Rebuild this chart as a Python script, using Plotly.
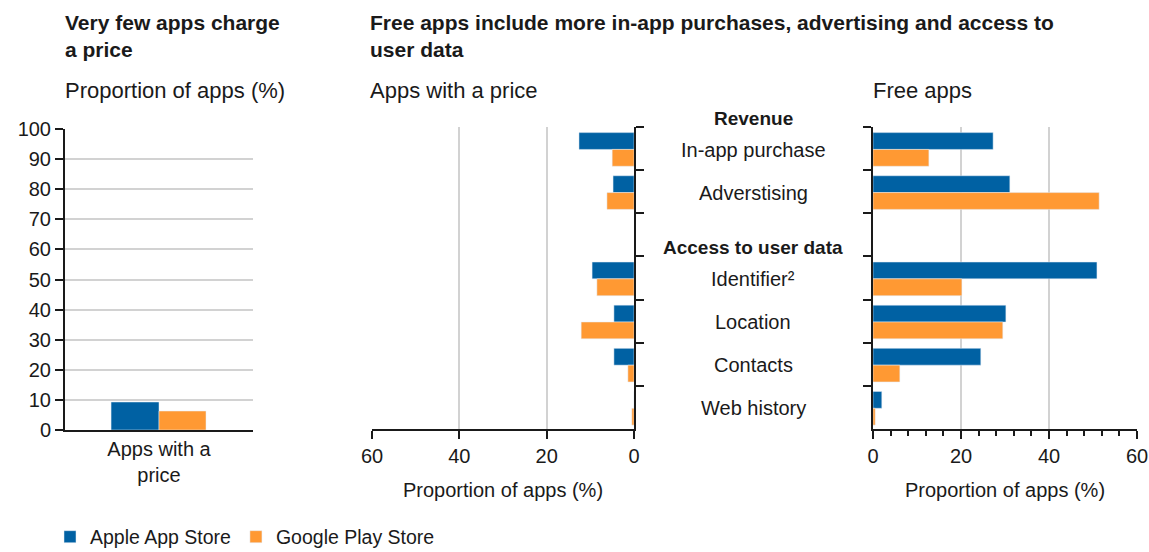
import plotly.graph_objects as go

W, H = 1149, 552

# Data -----------------------------------------------------------------------
stores = ["Apple App Store", "Google Play Store"]
store_colors = ["#0061a3", "#ff9933"]

price_category = ["Apps with a<br>price"]
apple_with_price = [9.3]
google_with_price = [6.3]

features = ["In-app purchase", "Adverstising", "Access to user data",
            "Identifier²", "Location", "Contacts", "Web history"]
paid_apple = [12.6, 4.8, None, 9.6, 4.6, 4.6, 0.0]
paid_google = [5.0, 6.2, None, 8.5, 12.1, 1.4, 0.5]
free_apple = [27.3, 31.1, None, 50.9, 30.2, 24.5, 2.0]
free_google = [12.7, 51.4, None, 20.2, 29.5, 6.1, 0.5]

left_ticks = list(range(0, 101, 10))
share_ticks = [0, 20, 40, 60]

# Styling --------------------------------------------------------------------
FONT = "Liberation Sans, Arial, sans-serif"
INK = "#1a1a1a"
GRID = "#d2d2d2"


def px_x(p):
    return p / W


def px_y(p):
    return 1 - p / H


fig = go.Figure()

# Left panel: share of apps that charge a price
fig.add_trace(go.Bar(x=price_category, y=apple_with_price, name=stores[0],
                     marker_color=store_colors[0], width=0.255, offset=-0.255,
                     xaxis="x", yaxis="y", legendgroup="a"))
fig.add_trace(go.Bar(x=price_category, y=google_with_price, name=stores[1],
                     marker_color=store_colors[1], width=0.25, offset=0,
                     xaxis="x", yaxis="y", legendgroup="g"))

# Middle panel: paid apps (mirrored)
fig.add_trace(go.Bar(y=features, x=paid_apple, orientation="h",
                     marker_color=store_colors[0], width=0.39, offset=-0.37,
                     xaxis="x2", yaxis="y2", showlegend=False, legendgroup="a"))
fig.add_trace(go.Bar(y=features, x=paid_google, orientation="h",
                     marker_color=store_colors[1], width=0.39, offset=0.02,
                     xaxis="x2", yaxis="y2", showlegend=False, legendgroup="g"))

# Right panel: free apps
fig.add_trace(go.Bar(y=features, x=free_apple, orientation="h",
                     marker_color=store_colors[0], width=0.39, offset=-0.37,
                     xaxis="x3", yaxis="y3", showlegend=False, legendgroup="a"))
fig.add_trace(go.Bar(y=features, x=free_google, orientation="h",
                     marker_color=store_colors[1], width=0.39, offset=0.02,
                     xaxis="x3", yaxis="y3", showlegend=False, legendgroup="g"))

panel_y = [px_y(429), px_y(127)]
tick_font = dict(family=FONT, size=20, color=INK)
title_font = dict(family=FONT, size=20, color=INK)

fig.update_layout(
    width=W, height=H,
    margin=dict(l=0, r=0, t=0, b=0, autoexpand=False),
    paper_bgcolor="white", plot_bgcolor="white",
    barmode="overlay",
    font=dict(family=FONT, color=INK),
    legend=dict(orientation="h", x=px_x(50), y=px_y(537), xanchor="left",
                yanchor="middle", font=dict(family=FONT, size=19.5, color=INK),
                itemwidth=30, tracegroupgap=0, bgcolor="rgba(0,0,0,0)"),
    xaxis=dict(domain=[px_x(65), px_x(253)], anchor="y", type="category",
               showline=True, linecolor=INK, linewidth=2, ticks="",
               showgrid=False, tickfont=dict(family=FONT, size=20, color=INK),
               range=[-0.5, 0.5], fixedrange=True),
    yaxis=dict(domain=[px_y(430), px_y(129)], anchor="x", range=[0, 100],
               tickvals=left_ticks, showline=True, linecolor=INK, linewidth=2,
               ticks="outside", ticklen=8, tickwidth=2, tickcolor=INK,
               showgrid=True, gridcolor=GRID, gridwidth=2, zeroline=False,
               tickfont=tick_font),
    xaxis2=dict(domain=[px_x(372), px_x(634)], anchor="y2", range=[60, 0],
                tickvals=share_ticks, showline=True, linecolor=INK, linewidth=2,
                ticks="outside", ticklen=8, tickwidth=2, tickcolor=INK,
                showgrid=True, gridcolor=GRID, gridwidth=2, zeroline=False,
                tickfont=tick_font,
                title=dict(text="Proportion of apps (%)", font=title_font, standoff=17)),
    yaxis2=dict(domain=panel_y, anchor="x2", side="right", type="category",
                categoryorder="array", categoryarray=features,
                range=[6.5, -0.5], showticklabels=False, showline=True,
                linecolor=INK, linewidth=2, ticks="outside", ticklen=8,
                tickwidth=2, tickcolor=INK, tickson="boundaries", showgrid=False),
    xaxis3=dict(domain=[px_x(873), px_x(1137)], anchor="y3", range=[0, 60],
                tickvals=share_ticks, showline=True, linecolor=INK, linewidth=2,
                ticks="outside", ticklen=8, tickwidth=2, tickcolor=INK,
                minor=dict(dtick=4, ticks="outside", ticklen=5, tickwidth=1.5,
                           tickcolor=INK, showgrid=False),
                showgrid=True, gridcolor=GRID, gridwidth=2, zeroline=False,
                tickfont=tick_font,
                title=dict(text="Proportion of apps (%)", font=title_font, standoff=17)),
    yaxis3=dict(domain=panel_y, anchor="x3", side="left", type="category",
                categoryorder="array", categoryarray=features,
                range=[6.5, -0.5], showticklabels=False, showline=True,
                linecolor=INK, linewidth=2, ticks="outside", ticklen=8,
                tickwidth=2, tickcolor=INK, tickson="boundaries", showgrid=False),
)

annotations = [
    dict(text="<b>Very few apps charge<br>a price</b>", x=px_x(63), y=px_y(9),
         xanchor="left", yanchor="top", align="left", font=dict(size=21)),
    dict(text="<b>Free apps include more in-app purchases, advertising and access to<br>user data</b>",
         x=px_x(368), y=px_y(9), xanchor="left", yanchor="top", align="left",
         font=dict(size=21)),
    dict(text="Proportion of apps (%)", x=px_x(63), y=px_y(91), xanchor="left",
         yanchor="middle", font=dict(size=22)),
    dict(text="Apps with a price", x=px_x(368), y=px_y(91), xanchor="left",
         yanchor="middle", font=dict(size=22)),
    dict(text="Free apps", x=px_x(871), y=px_y(91), xanchor="left",
         yanchor="middle", font=dict(size=22)),
    dict(text="<b>Revenue</b>", x=px_x(753), y=px_y(119), xanchor="center",
         yanchor="middle", font=dict(size=19)),
]
for name in features:
    is_header = name == "Access to user data"
    annotations.append(dict(
        text=f"<b>{name}</b>" if is_header else name,
        x=px_x(753), xref="paper", y=name, yref="y2",
        xanchor="center", yanchor="middle", yshift=-13 if is_header else -1,
        font=dict(size=19 if is_header else 20)))

for a in annotations:
    a.setdefault("xref", "paper")
    a.setdefault("yref", "paper")
    a["showarrow"] = False
    a["font"] = dict(family=FONT, color=INK, size=a["font"]["size"])

fig.update_layout(annotations=annotations)

fig.write_html("out.html")
